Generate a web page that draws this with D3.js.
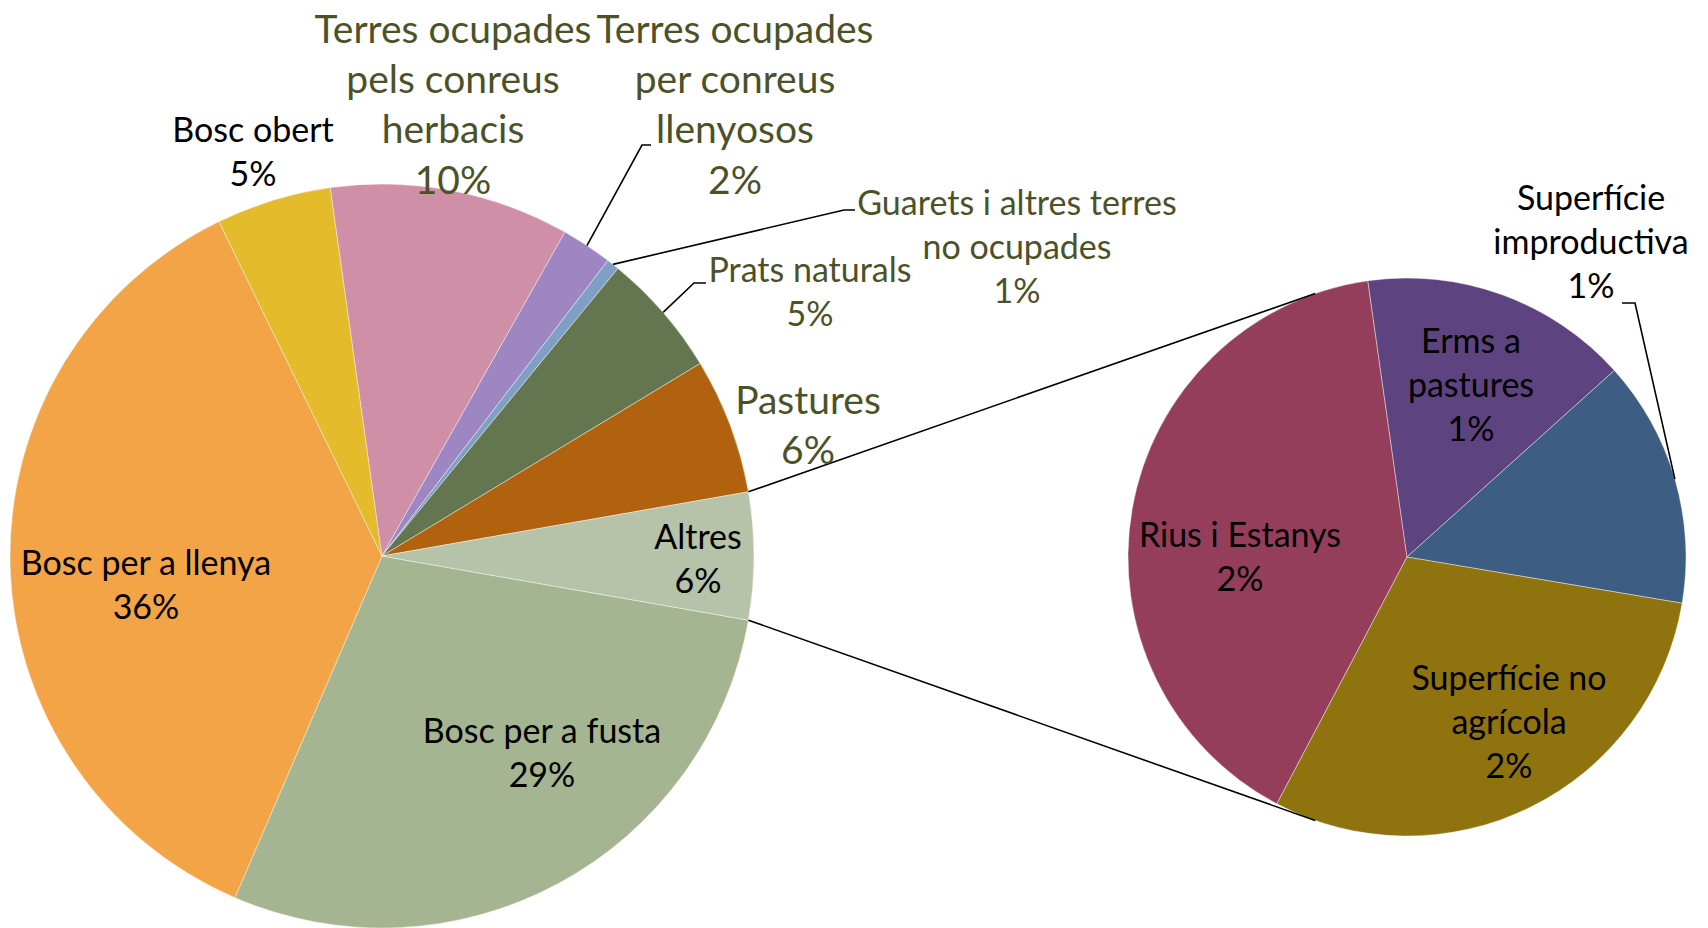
<!DOCTYPE html>
<html>
<head>
<meta charset="utf-8">
<script src="https://cdn.jsdelivr.net/npm/d3@7"></script>
<style>
  body { margin: 0; background: #fff; }
  text { font-family: Lato, "Open Sans", sans-serif; }
</style>
</head>
<body>
<div id="chart"></div>
<script>
// data (percent of total land surface)
var mainCats = ["Bosc per a fusta", "Bosc per a llenya", "Bosc obert",
  "Terres ocupades pels conreus herbacis", "Terres ocupades per conreus llenyosos",
  "Guarets i altres terres no ocupades", "Prats naturals", "Pastures"];
var mainValues = [28.7, 36.3, 5.0, 10.4, 2.2, 0.55, 5.4, 5.9];
var otherCat = "Altres";

var subCats = ["Rius i Estanys", "Erms a pastures", "Superfície improductiva", "Superfície no agrícola"];
var subValues = [2.21, 0.86, 0.79, 1.66];

var mainColors = ["#a5b592", "#f2a446", "#e4bb2a", "#cf8fa6", "#9d86c2", "#7f9fc4", "#637650", "#b0620e", "#b6c3a8"];
var subColors = ["#943e5c", "#5d4480", "#3d5e82", "#8e730f"];

// label line breaks (same text as categories)
var mainLines = [["Bosc per a fusta"], ["Bosc per a llenya"], ["Bosc obert"],
  ["Terres ocupades", "pels conreus", "herbacis"], ["Terres ocupades", "per conreus", "llenyosos"],
  ["Guarets i altres terres", "no ocupades"], ["Prats naturals"], ["Pastures"], ["Altres"]];
var subLines = [["Rius i Estanys"], ["Erms a", "pastures"], ["Superfície", "improductiva"], ["Superfície no", "agrícola"]];

// layout
var W = 1708, H = 928;
var main = { cx: 382, cy: 556, r: 372 };
var sub = { cx: 1407, cy: 557, r: 279 };
var green = "#4b5229";

// label placement: block centre, size, colour, optional leader elbow
var mainLabelPos = [
  { x: 542, y: 753, size: 34, color: "#000" },
  { x: 146, y: 585, size: 34, color: "#000" },
  { x: 253, y: 152, size: 34, color: "#000" },
  { x: 453, y: 104, size: 39, color: green },
  { x: 735, y: 104, size: 39, color: green, elbow: [642, 145], end: 651 },
  { x: 1017, y: 247, size: 34, color: green, elbow: [844, 210], end: 855 },
  { x: 810, y: 292, size: 34, color: green, elbow: [694, 283], end: 706 },
  { x: 808, y: 425, size: 39, color: green },
  { x: 698, y: 559, size: 34, color: "#000" }
];
var subLabelPos = [
  { x: 1240, y: 557, size: 34, color: "#000" },
  { x: 1471, y: 385, size: 34, color: "#000" },
  { x: 1591, y: 242, size: 34, color: "#000", elbow: [1635, 303], end: 1622 },
  { x: 1509, y: 722, size: 34, color: "#000" }
];

var svg = d3.select("#chart").append("svg")
  .attr("width", W)
  .attr("height", H);

var subTotal = d3.sum(subValues);
var allMain = mainValues.concat([subTotal]);
var total = d3.sum(allMain);
var pct = function (v) { return Math.round(v / total * 100) + "%"; };

// main pie: "Altres" centred on the right
var otherAngle = 2 * Math.PI * subTotal / total;
var start = Math.PI / 2 + otherAngle / 2;
var mainPie = d3.pie().sort(null).startAngle(start).endAngle(start + 2 * Math.PI)(allMain);
var mainArc = d3.arc().innerRadius(0).outerRadius(main.r);

// second pie
var subStart = (207.8) * Math.PI / 180;
var subPie = d3.pie().sort(null).startAngle(subStart).endAngle(subStart + 2 * Math.PI)(subValues);
var subArc = d3.arc().innerRadius(0).outerRadius(sub.r);

function polar(c, r, a) {
  return [c.cx + r * Math.sin(a), c.cy - r * Math.cos(a)];
}

// connector lines between the two pies
var o = mainPie[mainPie.length - 1];
var jointA = 70.8 * Math.PI / 180;
var conn = [
  [polar(main, main.r, o.startAngle), polar(sub, sub.r, -Math.PI / 2 + jointA)],
  [polar(main, main.r, o.endAngle), polar(sub, sub.r, -Math.PI / 2 - jointA)]
];

var gMain = svg.append("g").attr("transform", "translate(" + main.cx + "," + main.cy + ")");
gMain.selectAll("path")
  .data(mainPie)
  .enter()
  .append("path")
  .attr("d", mainArc)
  .attr("fill", function (d, i) { return mainColors[i]; })
  .attr("stroke", "#fff")
  .attr("stroke-opacity", 0.5)
  .attr("stroke-width", 0.8);

var gSub = svg.append("g").attr("transform", "translate(" + sub.cx + "," + sub.cy + ")");
gSub.selectAll("path")
  .data(subPie)
  .enter()
  .append("path")
  .attr("d", subArc)
  .attr("fill", function (d, i) { return subColors[i]; })
  .attr("stroke", "#fff")
  .attr("stroke-opacity", 0.5)
  .attr("stroke-width", 0.8);

svg.selectAll(".conn")
  .data(conn)
  .enter()
  .append("line")
  .attr("class", "conn")
  .attr("x1", function (d) { return d[0][0]; })
  .attr("y1", function (d) { return d[0][1]; })
  .attr("x2", function (d) { return d[1][0]; })
  .attr("y2", function (d) { return d[1][1]; })
  .attr("stroke", "#000")
  .attr("stroke-width", 1.6);

// labels
function drawLabels(pieData, centre, r, lines, pos, values) {
  pieData.forEach(function (d, i) {
    var p = pos[i];
    var txt = lines[i].concat([pct(values[i])]);
    var lh = p.size * 1.29;
    var y0 = p.y - (txt.length - 1) * lh / 2;
    var t = svg.append("text")
      .attr("text-anchor", "middle")
      .attr("fill", p.color)
      .style("font-size", p.size + "px");
    txt.forEach(function (s, k) {
      t.append("tspan")
        .attr("x", p.x)
        .attr("y", y0 + k * lh)
        .attr("dy", "0.36em")
        .text(s);
    });
    if (p.elbow) {
      var a = (d.startAngle + d.endAngle) / 2;
      var s0 = polar(centre, r, a);
      svg.append("polyline")
        .attr("points", [s0, p.elbow, [p.end, p.elbow[1]]].map(function (q) { return q.join(","); }).join(" "))
        .attr("fill", "none")
        .attr("stroke", "#000")
        .attr("stroke-width", 1.6);
    }
  });
}

drawLabels(mainPie, main, main.r, mainLines, mainLabelPos, allMain);
drawLabels(subPie, sub, sub.r, subLines, subLabelPos, subValues);
</script>
</body>
</html>
